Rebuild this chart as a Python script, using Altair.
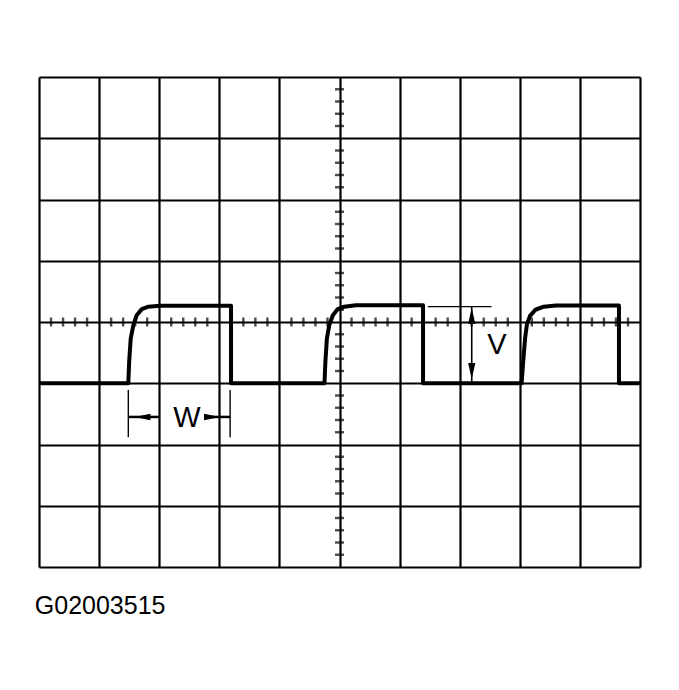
import altair as alt
import pandas as pd

# Waveform (x in divisions from left edge, y in divisions from centre line)
wave_x = [0.0, 1.486, 1.50, 1.526, 1.57, 1.625, 1.71, 1.82, 2.01, 3.195, 3.195,
          4.75, 4.765, 4.79, 4.83, 4.89, 4.97, 5.08, 5.27, 6.39, 6.39,
          8.03, 8.06, 8.09, 8.12, 8.17, 8.26, 8.40, 8.60, 9.65, 9.65, 10.0]
wave_y = [-1.0, -1.0, -0.65, -0.27, -0.05, 0.11, 0.21, 0.25, 0.265, 0.265, -1.0,
          -1.0, -0.65, -0.27, -0.05, 0.11, 0.21, 0.25, 0.275, 0.275, -1.0,
          -1.0, -0.6, -0.25, -0.03, 0.10, 0.20, 0.25, 0.27, 0.27, -1.0, -1.0]

grid_x = list(range(0, 11))
grid_y = list(range(-4, 5))
minor_x = [i / 5 for i in range(0, 51) if i % 5 != 0]
minor_y = [i / 5 for i in range(-20, 21) if i % 5 != 0]

# Annotation segments: W extension lines, W shafts, V line, V extension line
seg_x = [1.486, 3.18, 1.486, 2.76, 7.20, 6.47]
seg_x2 = [1.486, 3.18, 2.01, 3.18, 7.20, 7.53]
seg_y = [-1.11, -1.11, -1.55, -1.55, 0.25, 0.25]
seg_y2 = [-1.88, -1.88, -1.55, -1.55, -0.975, 0.25]
seg_w = [1.4, 1.4, 2.5, 2.5, 1.6, 1.3]

arrow_x = [1.72, 2.88, 7.20, 7.20]
arrow_y = [-1.55, -1.55, 0.10, -0.80]
arrow_shape = ["left", "right", "up", "down"]

label_text = ["W", "V"]
label_x = [2.46, 7.62]
label_y = [-1.57, -0.375]

caption = "G02003515"

xs = alt.Scale(domain=[0, 10], nice=False, zero=False)
ys = alt.Scale(domain=[-4, 4], nice=False, zero=False)
xax = alt.Axis(values=grid_x, grid=True, gridColor="black", gridWidth=2.2, gridOpacity=1,
               labels=False, ticks=False, domain=False, title=None)
yax = alt.Axis(values=grid_y, grid=True, gridColor="black", gridWidth=2.2, gridOpacity=1,
               labels=False, ticks=False, domain=False, title=None)

wave = pd.DataFrame({"x": wave_x, "y": wave_y, "o": list(range(len(wave_x)))})
wave_layer = alt.Chart(wave).mark_line(color="black", strokeWidth=4, strokeJoin="round").encode(
    x=alt.X("x:Q", scale=xs, axis=xax),
    y=alt.Y("y:Q", scale=ys, axis=yax),
    order="o:Q",
)

ticks_h = alt.Chart(pd.DataFrame({"x": minor_x, "y": [0] * len(minor_x)})).mark_tick(
    orient="vertical", size=9, thickness=2.4, color="black").encode(
    x=alt.X("x:Q", scale=xs, axis=xax), y=alt.Y("y:Q", scale=ys, axis=yax))
ticks_v = alt.Chart(pd.DataFrame({"x": [5] * len(minor_y), "y": minor_y})).mark_tick(
    orient="horizontal", size=9, thickness=2.4, color="black").encode(
    x=alt.X("x:Q", scale=xs, axis=xax), y=alt.Y("y:Q", scale=ys, axis=yax))

segs = pd.DataFrame({"x": seg_x, "x2": seg_x2, "y": seg_y, "y2": seg_y2, "w": seg_w})
seg_layer = alt.Chart(segs).mark_rule(color="black").encode(
    x=alt.X("x:Q", scale=xs, axis=xax), x2="x2:Q",
    y=alt.Y("y:Q", scale=ys, axis=yax), y2="y2:Q",
    strokeWidth=alt.StrokeWidth("w:Q", scale=None),
)

shape_paths = {
    "up": "M0,-1L-0.45,1L0.45,1Z",
    "down": "M0,1L-0.45,-1L0.45,-1Z",
    "left": "M-1,0L1,-0.4L1,0.4Z",
    "right": "M1,0L-1,-0.4L-1,0.4Z",
}
arrows = pd.DataFrame({"x": arrow_x, "y": arrow_y, "s": arrow_shape})
arrow_layer = alt.Chart(arrows).mark_point(filled=True, color="black", size=260, opacity=1).encode(
    x=alt.X("x:Q", scale=xs, axis=xax),
    y=alt.Y("y:Q", scale=ys, axis=yax),
    shape=alt.Shape("s:N", scale=alt.Scale(domain=list(shape_paths.keys()),
                                           range=list(shape_paths.values())), legend=None),
)

labels = pd.DataFrame({"t": label_text, "x": label_x, "y": label_y})
label_layer = alt.Chart(labels).mark_text(font="Liberation Sans", fontSize=29, color="black",
                                          align="center", baseline="middle").encode(
    x=alt.X("x:Q", scale=xs, axis=xax), y=alt.Y("y:Q", scale=ys, axis=yax), text="t:N")

cap_layer = alt.Chart(pd.DataFrame({"t": [caption], "x": [-0.07], "y": [-4.77]})).mark_text(
    font="Liberation Sans", fontSize=25, color="black", align="left", baseline="alphabetic").encode(
    x=alt.X("x:Q", scale=xs, axis=xax), y=alt.Y("y:Q", scale=ys, axis=yax), text="t:N")

chart = alt.layer(ticks_h, ticks_v, wave_layer, seg_layer, arrow_layer, label_layer, cap_layer).properties(
    width=601, height=490,
    autosize=alt.AutoSizeParams(type="none"),
    padding={"left": 31, "top": 69, "right": 30, "bottom": 100},
    background="white",
).configure_view(stroke=None)

chart.save("out.html", embed_options={"renderer": "svg", "actions": False})
